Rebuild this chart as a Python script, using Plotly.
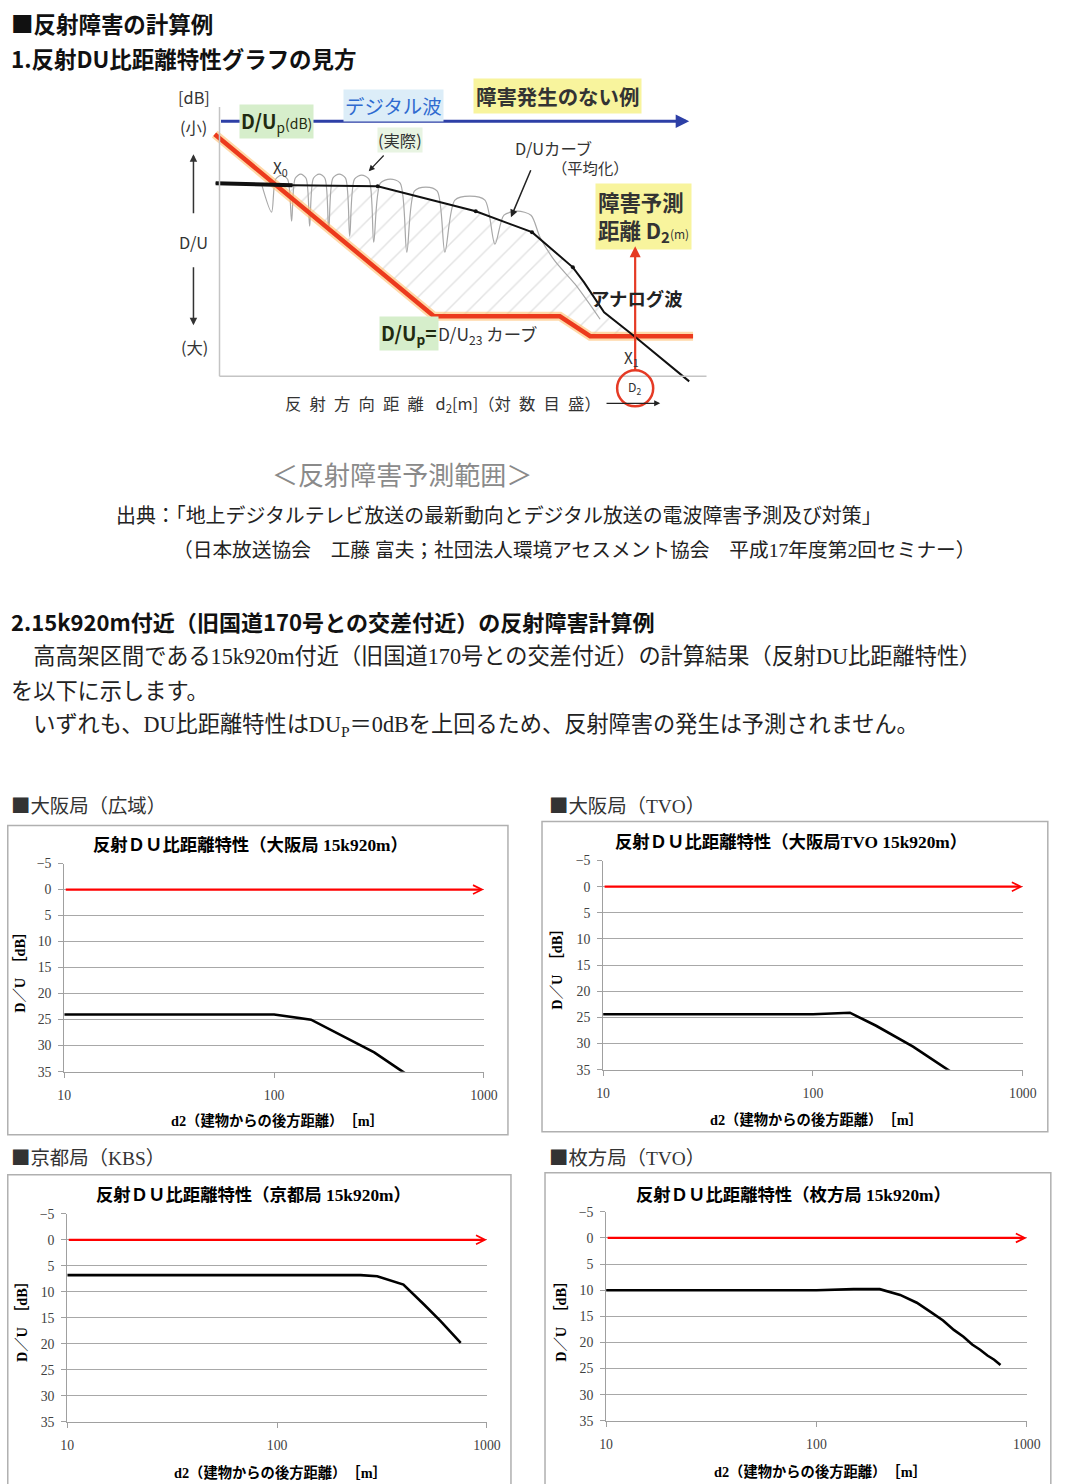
import math
import plotly.graph_objects as go

# Layout positions below are written on a 1067 x 1484 page grid and converted
# to figure pixels (the figure is shown inside an 8 px page margin).
SX, SY = 1067 / 1090, 1484 / 1500
M = 8
W, H = 1074, 1484
FS = 1 / SX   # font scale on the page grid

# ---------------- chart data: reflected D/U ratio vs. rear distance d2 ----------------
db_ticks = [-5, 0, 5, 10, 15, 20, 25, 30, 35]
d2_ticks = [10, 100, 1000]
d2_tick_text = ["10", "100", "1000"]
du_threshold = 0          # D/Up = 0 dB reference
d2_span = [10, 1000]

osaka_wide_d2 = [10, 100, 150, 200, 300, 400, 500]
osaka_wide_du = [24.0, 24.0, 25.0, 27.6, 31.3, 34.7, 37.3]

osaka_tvo_d2 = [10, 100, 150, 200, 300, 400, 500]
osaka_tvo_du = [24.4, 24.4, 24.1, 26.6, 30.6, 33.9, 36.5]

kyoto_kbs_d2 = [10, 100, 250, 300, 400, 500, 600, 750]
kyoto_kbs_du = [6.8, 6.8, 6.8, 7.0, 8.6, 12.4, 15.6, 19.8]

hirakata_tvo_d2 = [10, 100, 150, 200, 250, 300, 350, 400, 450, 500, 550, 600, 650, 700, 750]
hirakata_tvo_du = [10.0, 10.0, 9.8, 9.8, 10.9, 12.4, 14.2, 15.8, 17.6, 18.9, 20.4, 21.4, 22.5, 23.3, 24.3]

# ---------------- explanatory diagram (relative units) ----------------
# x: log distance 0..100, y: D/U level 0 (small) .. 100 (large)
schem_du23_x = [-1.0, 44.6, 70.8, 77.1, 98.5]
schem_du23_y = [5.1, 76.5, 76.5, 84.3, 84.3]
schem_avg_x = [-0.8, 15.2, 32.9, 53.3, 65.0, 73.5, 75.8, 80.0, 86.3, 97.7]
schem_avg_y = [24.3, 25.1, 25.5, 35.3, 43.5, 57.3, 63.1, 74.9, 84.3, 102.0]
schem_avg_flat_x = [-0.8, 15.2]
schem_avg_flat_y = [24.3, 25.1]
schem_knee_x = [32.9, 53.3, 65.0, 73.5]
schem_knee_y = [25.5, 35.3, 43.5, 57.3]
# measured (un-averaged) D/U with its interference ripples
schem_actual_x = [8.75, 10.83, 11.67, 12.92, 14.17, 15.0, 15.75, 16.88, 18.0, 18.75,
                  19.54, 20.73, 21.92, 22.71, 23.58, 24.9, 26.21, 27.08, 28.08, 29.58,
                  31.08, 32.08, 33.46, 35.52, 37.58, 38.96, 40.54, 42.92, 45.29, 46.88,
                  48.96, 52.08, 55.21, 57.29, 59.17, 61.98, 64.79, 66.67, 69.79, 73.96, 79.17]
schem_actual_y = [24.71, 35.69, 22.75, 21.18, 22.75, 39.22, 22.35, 20.78, 22.35, 41.18,
                  22.35, 20.78, 22.35, 43.14, 22.35, 20.78, 22.35, 45.1, 22.75, 21.18,
                  22.75, 47.45, 24.31, 22.75, 24.31, 51.37, 27.45, 25.88, 27.45, 51.37,
                  30.98, 29.41, 30.98, 48.24, 36.86, 35.29, 36.86, 45.49, 54.9, 63.92, 77.65]
schem_zone_x = [11.5, 15.2, 32.9, 53.3, 65.0, 73.5, 75.8, 80.0, 86.3, 77.1, 70.8, 44.6, 11.5]
schem_zone_y = [24.7, 25.1, 25.5, 35.3, 43.5, 57.3, 63.1, 74.9, 84.3, 84.3, 76.5, 76.5, 24.7]
schem_digital_x = [0.0, 97.7]
schem_digital_y = [0.0, 0.0]

SANS = "Noto Sans CJK JP"
SERIF = "Liberation Serif, Noto Sans CJK JP"


def px(x):
    return (x / SX - M) / W


def py(y):
    return 1 - (y / SY - M) / H


fig = go.Figure()
annotations = []
shapes = []


def label(x, y, text, size, color="#222", family=SANS, xanchor="left", yanchor="middle", **kw):
    annotations.append(dict(x=px(x), y=py(y), xref="paper", yref="paper", text=text,
                            showarrow=False, font=dict(size=size * FS, color=color, family=family),
                            xanchor=xanchor, yanchor=yanchor, **kw))


def pointer(hx, hy, dx, dy, color="#333", width=1.5, head=2, size=1.0):
    annotations.append(dict(x=px(hx), y=py(hy), xref="paper", yref="paper", ax=dx / SX, ay=dy / SY,
                            axref="pixel", ayref="pixel", text="", showarrow=True,
                            arrowhead=head, arrowsize=size, arrowwidth=width, arrowcolor=color))


# ---------------- headings and body text ----------------
label(10, 24, "<b>■反射障害の計算例</b>", 22, "#111")
label(10, 59, "<b>1.反射DU比距離特性グラフの見方</b>", 22, "#111")
label(270, 474, "＜反射障害予測範囲＞", 25.5, "#8a8a8a")
label(115, 517, "出典：「地上デジタルテレビ放送の最新動向とデジタル放送の電波障害予測及び対策」", 19.5, "#222", SERIF)
label(172, 551, "（日本放送協会　工藤 富夫；社団法人環境アセスメント協会　平成17年度第2回セミナー）", 19.3, "#222", SERIF)
label(10, 622, "<b>2.15k920m付近（旧国道170号との交差付近）の反射障害計算例</b>", 21.6, "#111")
label(10, 657, "　高高架区間である15k920m付近（旧国道170号との交差付近）の計算結果（反射DU比距離特性）", 21.75, "#222", SERIF)
label(10, 692, "を以下に示します。", 21.75, "#222", SERIF)
label(10, 727, "　いずれも、DU比距離特性はDU<sub>P</sub>＝0dBを上回るため、反射障害の発生は予測されません。", 21.75, "#222", SERIF)

# ---------------- explanatory diagram ----------------
XS, YS = "x5", "y5"
fig.add_trace(go.Scatter(x=schem_zone_x, y=schem_zone_y, xaxis=XS, yaxis=YS, mode="lines",
                         fill="toself", fillcolor="rgba(255,255,255,0)", line=dict(width=0),
                         fillpattern=dict(shape="/", fgcolor="#c8c8c8", size=15, solidity=0.1),
                         hoverinfo="skip", showlegend=False))
fig.add_trace(go.Scatter(x=schem_actual_x, y=schem_actual_y, xaxis=XS, yaxis=YS, mode="lines",
                         line=dict(color="#a8a8a8", width=1.2, shape="spline", smoothing=0.8),
                         hoverinfo="skip", showlegend=False))
fig.add_trace(go.Scatter(x=schem_du23_x, y=schem_du23_y, xaxis=XS, yaxis=YS, mode="lines",
                         line=dict(color="rgba(255,190,110,0.6)", width=9),
                         hoverinfo="skip", showlegend=False))
fig.add_trace(go.Scatter(x=schem_du23_x, y=schem_du23_y, xaxis=XS, yaxis=YS, mode="lines",
                         line=dict(color="#ec3a1d", width=4.5),
                         hoverinfo="skip", showlegend=False))
fig.add_trace(go.Scatter(x=schem_avg_x, y=schem_avg_y, xaxis=XS, yaxis=YS, mode="lines",
                         line=dict(color="#111", width=2),
                         hoverinfo="skip", showlegend=False))
fig.add_trace(go.Scatter(x=schem_avg_flat_x, y=schem_avg_flat_y, xaxis=XS, yaxis=YS, mode="lines",
                         line=dict(color="#111", width=4),
                         hoverinfo="skip", showlegend=False))
fig.add_trace(go.Scatter(x=schem_knee_x, y=schem_knee_y, xaxis=XS, yaxis=YS, mode="markers",
                         marker=dict(color="#111", size=4),
                         hoverinfo="skip", showlegend=False))

# diagram axes
shapes.append(dict(type="line", xref=XS, yref=YS, x0=0, x1=0, y0=-5.5, y1=100,
                   line=dict(color="#c4c4c4", width=1.5)))
shapes.append(dict(type="line", xref=XS, yref=YS, x0=0, x1=101.3, y0=100, y1=100,
                   line=dict(color="#c4c4c4", width=1.5)))

# digital wave D/Up line
annotations.append(dict(x=schem_digital_x[1], y=schem_digital_y[1], ax=schem_digital_x[0],
                        ay=schem_digital_y[0], xref=XS, yref=YS, axref=XS, ayref=YS, text="",
                        showarrow=True, arrowhead=2, arrowsize=0.9, arrowwidth=3,
                        arrowcolor="#2d3fa6", standoff=0))

label(195, 98, "[dB]", 16, "#333", xanchor="center")
label(194, 128, "(小)", 16, "#333", xanchor="center")
label(194, 243, "D/U", 16, "#333", xanchor="center")
label(195, 348, "(大)", 16, "#333", xanchor="center")
pointer(194, 155, 0, 60)
pointer(194, 326, 0, -59)

label(277, 122, "<b>D/U</b><sub>p</sub><span style='font-size:14px'>(dB)</span>", 19, "#1f2a10",
      xanchor="center", bgcolor="#d6eecb", borderpad=1)
label(394, 106, "デジタル波", 19, "#2f6bd0", xanchor="center", bgcolor="#dcedf8", borderpad=1)
label(557, 97, "<b>障害発生のない例</b>", 20, "#333", xanchor="center", bgcolor="#f8f49d", borderpad=2)
label(400, 141, "(実際)", 16, "#333", xanchor="center", bgcolor="#e8f4e2", borderpad=0)
pointer(369, 172, 16, -17, "#222", 1.2)
label(553, 149, "D/Uカーブ", 16, "#333", xanchor="center")
label(590, 168, "（平均化）", 15, "#333", xanchor="center")
pointer(511, 218, 20, -48, "#222", 1.5)
label(643, 217, "<b>障害予測<br>距離 D<sub>2</sub></b><span style='font-size:12px'>(m)</span>", 21, "#333",
      xanchor="center", bgcolor="#f8f49d", borderpad=2, align="left")
pointer(635, 247, 0, 124, "#e53a25", 2.2)
label(637, 299, "<b>アナログ波</b>", 18, "#222", xanchor="center")
label(281, 169, "X<sub>0</sub>", 15, "#333", xanchor="center")
label(631, 359, "X<sub>1</sub>", 15, "#333", xanchor="center")
shapes.append(dict(type="circle", xref="paper", yref="paper", x0=px(617), x1=px(653),
                   y0=py(407), y1=py(371), line=dict(color="#e53a25", width=2.5)))
label(634, 388, "D<sub>2</sub>", 12, "#333", xanchor="center")
label(409, 334, "<b>D/U<sub>p</sub>=</b>", 19, "#1f2a10", xanchor="center", bgcolor="#d6eecb", borderpad=1)
label(436, 335, "D/U<sub>23</sub> カーブ", 17, "#333")
label(443, 404, "反\u2002射\u2002方\u2002向\u2002距\u2002離\u2002 d<sub>2</sub>[m]（対\u2002数\u2002目\u2002盛）",
      16, "#333", xanchor="center")
pointer(660, 404, -54, 0, "#222", 1.2)

# ---------------- four result charts ----------------
charts = [
    dict(d2=osaka_wide_d2, du=osaka_wide_du,
         title="反射ＤＵ比距離特性（大阪局 15k920m）", section="大阪局（広域）",
         box=(8.6, 826, 508, 1135), plot=(65, 864, 484, 1072),
         title_xy=(251, 846), xt=(278, 1121), yt=(20, 969), sec_xy=(10, 805)),
    dict(d2=osaka_tvo_d2, du=osaka_tvo_du,
         title="反射ＤＵ比距離特性（大阪局TVO 15k920m）", section="大阪局（TVO）",
         box=(542, 822, 1047, 1132), plot=(603, 861, 1022, 1070),
         title_xy=(791, 843), xt=(816, 1120), yt=(557, 966), sec_xy=(547, 805)),
    dict(d2=kyoto_kbs_d2, du=kyoto_kbs_du,
         title="反射ＤＵ比距離特性（京都局 15k920m）", section="京都局（KBS）",
         box=(8.6, 1175, 511, 1500), plot=(68, 1214, 487, 1422),
         title_xy=(254, 1196), xt=(281, 1473), yt=(23, 1318), sec_xy=(10, 1157)),
    dict(d2=hirakata_tvo_d2, du=hirakata_tvo_du,
         title="反射ＤＵ比距離特性（枚方局 15k920m）", section="枚方局（TVO）",
         box=(545, 1173, 1050, 1500), plot=(606, 1212, 1026, 1421),
         title_xy=(793, 1195), xt=(820, 1472), yt=(561, 1318), sec_xy=(547, 1157)),
]

tick_font = dict(family="Liberation Serif", size=13.5 * FS, color="#404040")
layout_axes = {}
for i, c in enumerate(charts, start=1):
    xa = "x" if i == 1 else f"x{i}"
    ya = "y" if i == 1 else f"y{i}"
    l, t, r, b = c["plot"]
    layout_axes["xaxis" if i == 1 else f"xaxis{i}"] = dict(
        domain=[px(l), px(r)], anchor=ya, type="log", range=[math.log10(d2_span[0]), math.log10(d2_span[1])],
        tickvals=d2_ticks, ticktext=d2_tick_text, ticks="outside", ticklen=5, tickcolor="#a0a0a0",
        showline=True, linecolor="#a0a0a0", linewidth=1, showgrid=False, zeroline=False,
        tickfont=tick_font, ticklabelstandoff=6, fixedrange=True)
    layout_axes["yaxis" if i == 1 else f"yaxis{i}"] = dict(
        domain=[py(b), py(t)], anchor=xa, range=[db_ticks[-1], db_ticks[0]],
        tickvals=db_ticks, ticks="outside", ticklen=5, tickcolor="#a0a0a0",
        showline=True, linecolor="#a0a0a0", linewidth=1, showgrid=True, gridcolor="#a8a8a8",
        gridwidth=1, zeroline=False, tickfont=tick_font, ticklabelstandoff=4, fixedrange=True)

    fig.add_trace(go.Scatter(x=c["d2"], y=c["du"], xaxis=xa, yaxis=ya, mode="lines",
                             line=dict(color="black", width=2.6), showlegend=False,
                             cliponaxis=True))
    # D/Up = 0 dB reference arrow
    annotations.append(dict(x=math.log10(d2_span[1]), y=du_threshold, ax=math.log10(d2_span[0]),
                            ay=du_threshold, xref=xa, yref=ya, axref=xa, ayref=ya, text="",
                            showarrow=True, arrowhead=5, arrowsize=0.8, arrowwidth=2.2,
                            arrowcolor="#ff0000", standoff=0))

    bl, bt, br, bb = c["box"]
    shapes.append(dict(type="rect", xref="paper", yref="paper", x0=px(bl), x1=px(br),
                       y0=py(bb), y1=py(bt), line=dict(color="#b0b0b0", width=1.5)))
    label(c["title_xy"][0], c["title_xy"][1], f"<b>{c['title']}</b>", 17, "#000", SERIF, xanchor="center")
    label(c["xt"][0], c["xt"][1], "<b>d2（建物からの後方距離）　［m］</b>", 14, "#000", SERIF, xanchor="center")
    annotations.append(dict(x=px(c["yt"][0]), y=py(c["yt"][1]), xref="paper", yref="paper",
                            text="<b>D／U　［dB］</b>", showarrow=False, textangle=-90,
                            font=dict(size=14 * FS, color="#000", family=SERIF),
                            xanchor="center", yanchor="middle"))
    label(c["sec_xy"][0], c["sec_xy"][1],
          f"<span style=\"font-family:'Noto Sans CJK JP'\">■</span>{c['section']}", 19, "#333", SERIF)

layout_axes["xaxis5"] = dict(domain=[px(170), px(710)], anchor="y5", range=[-10.4167, 102.0833],
                             visible=False, fixedrange=True)
layout_axes["yaxis5"] = dict(domain=[py(445), py(80)], anchor="x5", range=[126.67, -16.47],
                             visible=False, fixedrange=True)

fig.update_layout(
    width=W, height=H, margin=dict(l=0, r=0, t=0, b=0),
    paper_bgcolor="white", plot_bgcolor="white",
    showlegend=False, annotations=annotations, shapes=shapes,
    **layout_axes,
)

fig.write_html("out.html", config={"displayModeBar": False})
